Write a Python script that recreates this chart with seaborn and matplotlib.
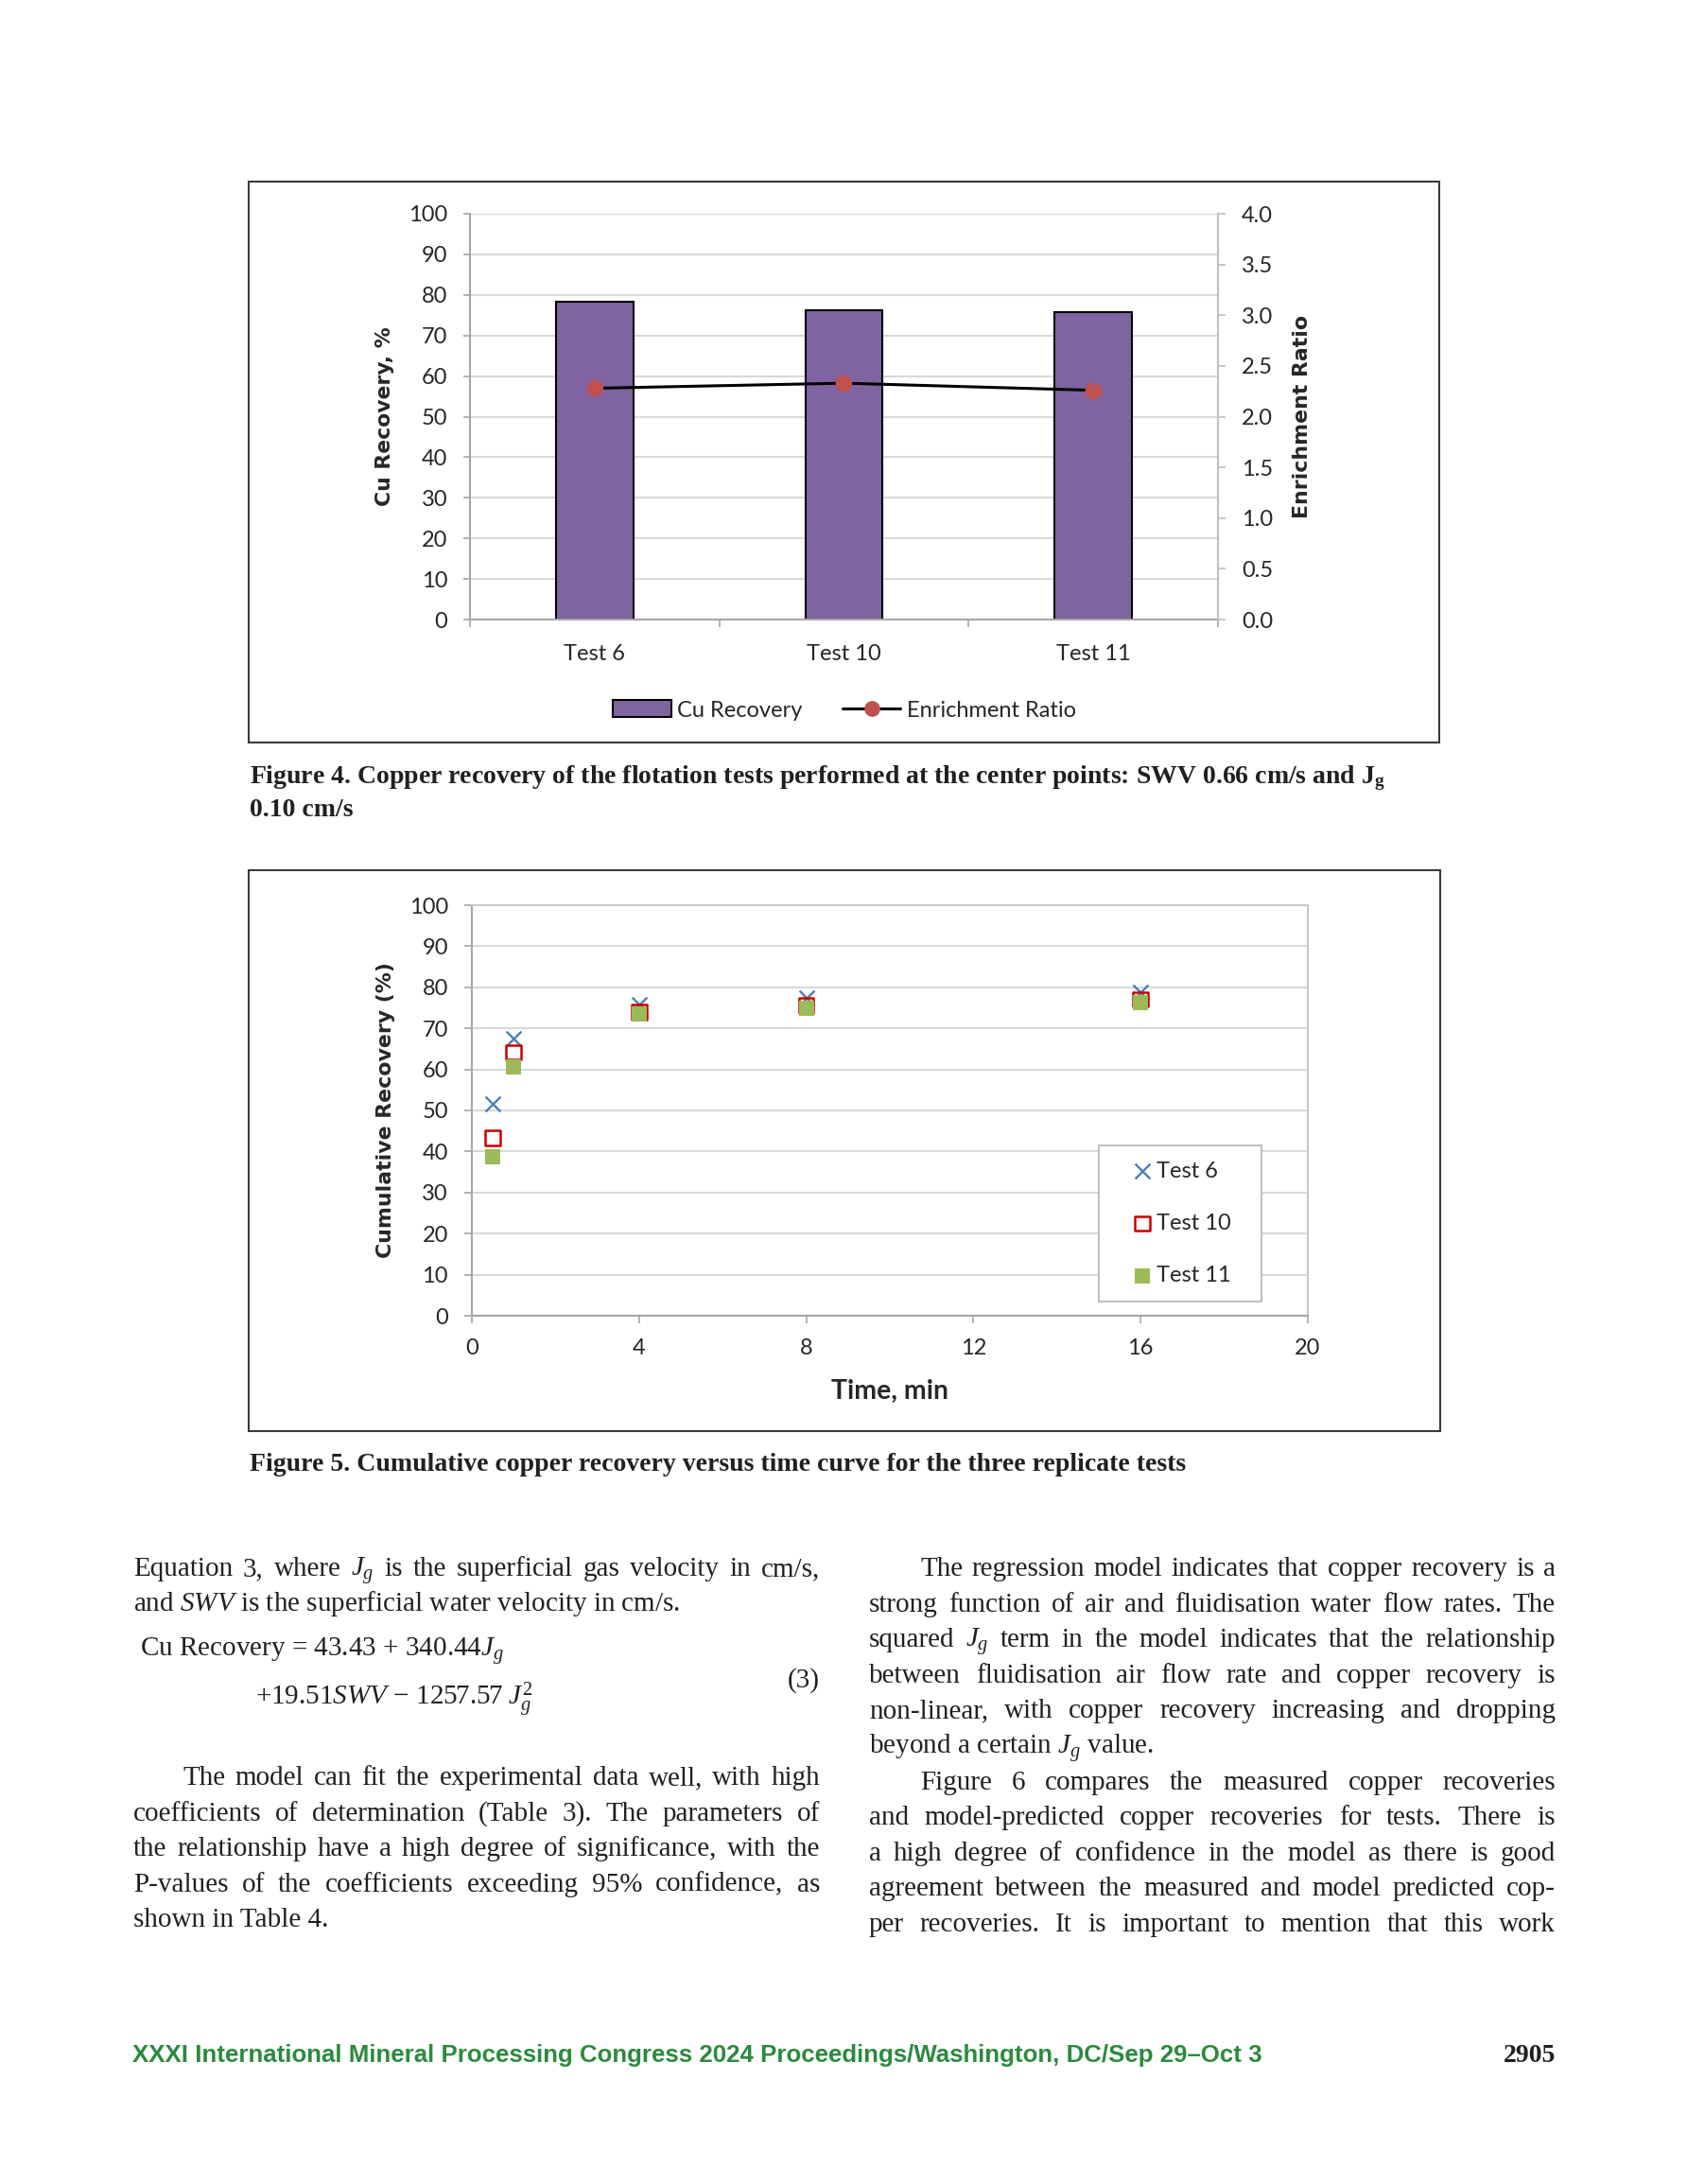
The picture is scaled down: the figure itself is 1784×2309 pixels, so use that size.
import numpy as np
import pandas as pd
import seaborn as sns
import matplotlib
matplotlib.use("Agg")
import matplotlib.pyplot as plt
from matplotlib.patches import Rectangle, Patch
from matplotlib.lines import Line2D
from matplotlib.ticker import FormatStrFormatter

# ---- Figure 4 data
tests = ["Test 6", "Test 10", "Test 11"]
cu_recovery = [78.4, 76.3, 75.8]
enrichment_ratio = [2.28, 2.33, 2.26]

# ---- Figure 5 data
time_min = [0.5, 1, 4, 8, 16]
rec_test6 = [51.6, 67.5, 75.9, 77.4, 78.7]
rec_test10 = [43.3, 64.2, 74.0, 75.6, 77.1]
rec_test11 = [38.8, 60.6, 73.4, 75.0, 76.2]

# ---- page text
cap4 = [r"Figure 4. Copper recovery of the flotation tests performed at the center points: SWV 0.66 cm/s and $\mathbf{J}_\mathbf{g}$",
        "0.10 cm/s"]
cap5 = "Figure 5. Cumulative copper recovery versus time curve for the three replicate tests"
left_col = [("Equation 3, where $J_g$ is the superficial gas velocity in cm/s,", True, 0),
            ("and $SWV$ is the superficial water velocity in cm/s.", False, 0)]
equation = ["Cu Recovery = 43.43 + 340.44$J_g$", "+19.51$SWV$ \u2212 1257.57 $J_g^2$", "(3)"]
left_col2 = [("The model can fit the experimental data well, with high", True, 52),
             ("coefficients of determination (Table 3). The parameters of", True, 0),
             ("the relationship have a high degree of significance, with the", True, 0),
             ("P-values of the coefficients exceeding 95% confidence, as", True, 0),
             ("shown in Table 4.", False, 0)]
right_col = [("The regression model indicates that copper recovery is a", True, 54),
             ("strong function of air and fluidisation water flow rates. The", True, 0),
             ("squared $J_g$ term in the model indicates that the relationship", True, 0),
             ("between fluidisation air flow rate and copper recovery is", True, 0),
             ("non-linear, with copper recovery increasing and dropping", True, 0),
             ("beyond a certain $J_g$ value.", False, 0),
             ("Figure 6 compares the measured copper recoveries", True, 54),
             ("and model-predicted copper recoveries for tests. There is", True, 0),
             ("a high degree of confidence in the model as there is good", True, 0),
             ("agreement between the measured and model predicted cop-", True, 0),
             ("per recoveries. It is important to mention that this work", True, 0)]
footer = "XXXI International Mineral Processing Congress 2024 Proceedings/Washington, DC/Sep 29\u2013Oct 3"
page_no = "2905"

sns.set_style("white")
plt.rcParams['font.family'] = ['Lato', 'DejaVu Sans']
plt.rcParams['mathtext.fontset'] = 'custom'
plt.rcParams['mathtext.rm'] = 'Liberation Serif'
plt.rcParams['mathtext.it'] = 'Liberation Serif:italic'
plt.rcParams['mathtext.bf'] = 'Liberation Serif:bold'

W, H = 1784, 2309
fig = plt.figure(figsize=(W / 100, H / 100), dpi=100)
renderer = fig.canvas.get_renderer()

page = fig.add_axes([0, 0, 1, 1])
page.set_xlim(0, W)
page.set_ylim(H, 0)
page.axis('off')

SERIF = 'Liberation Serif'
INK = '#231f20'


def px_axes(l, t, r, b):
    return fig.add_axes([l / W, 1 - b / H, (r - l) / W, (b - t) / H])


def width_of(s, **kw):
    t = page.text(0, 0, s, **kw)
    w = t.get_window_extent(renderer).width
    t.remove()
    return w


def fit_size(s, target, **kw):
    return 20 * target / width_of(s, fontsize=20, **kw)


def put_line(s, x0, x1, y, justify, size, **kw):
    if not justify:
        page.text(x0, y, s, fontsize=size, va='baseline', color=INK, **kw)
        return
    words = s.split(' ')
    while True:
        ws = [width_of(w, fontsize=size, **kw) for w in words]
        gap = (x1 - x0 - sum(ws)) / (len(words) - 1)
        if gap >= 0.2 * size * 100 / 72:
            break
        size *= 0.98
    x = x0
    for w, wd in zip(words, ws):
        page.text(x, y, w, fontsize=size, va='baseline', color=INK, **kw)
        x += wd + gap


def fit_label(lab, target):
    ext = lab.get_window_extent(renderer)
    lab.set_fontsize(lab.get_fontsize() * target / max(ext.width, ext.height))


# chart frames
page.add_patch(Rectangle((263, 192), 1259, 593, fill=False, ec='#3a3a3a', lw=1.5))
page.add_patch(Rectangle((263, 920), 1260, 593, fill=False, ec='#3a3a3a', lw=1.5))

TS = 17

# ================= Figure 4 =================
ax4 = px_axes(497, 226, 1288, 655)
sns.barplot(x=tests, y=cu_recovery, ax=ax4, color='#8064a2', edgecolor='black',
            linewidth=1.5, width=0.31, saturation=1)
ax2 = ax4.twinx()
sns.pointplot(x=tests, y=enrichment_ratio, ax=ax2, color='black', markers='o',
              markersize=11, linewidth=2.2, errorbar=None)
for ln in ax2.lines:
    ln.set_markerfacecolor('#c0504d')
    ln.set_markeredgecolor('#c0504d')

ax4.set_xlim(-0.5, 2.5)
ax4.set_ylim(0, 100)
ax4.set_yticks(range(0, 101, 10))
ax4.grid(axis='y', color='#d9d9d9', lw=1.5)
ax4.grid(axis='x', visible=False)
ax4.set_axisbelow(True)
for side in ['top', 'right']:
    ax4.spines[side].set_visible(False)
for side in ['left', 'bottom']:
    ax4.spines[side].set_color('#a6a6a6')
    ax4.spines[side].set_linewidth(1.5)
ax4.tick_params(axis='y', direction='out', length=5, width=1.2, color='#a6a6a6',
                labelsize=TS, pad=12, left=True)
ax4.set_xticks([-0.5, 0.5, 1.5, 2.5], minor=True)
ax4.tick_params(axis='x', which='major', length=0, labelsize=TS, pad=19)
ax4.tick_params(axis='x', which='minor', direction='out', length=6, width=1.2,
                color='#a6a6a6', bottom=True)
ax4.set_xlabel('')
ax4.set_ylabel('Cu Recovery, %', fontfamily='DejaVu Sans', fontweight='bold', fontsize=14)
ax4.yaxis.set_label_coords((407 - 497) / 791, 0.5)
ax4.yaxis.label.set_verticalalignment('center')
fit_label(ax4.yaxis.label, 190)

ax2.set_ylim(0, 4)
ax2.set_yticks(np.arange(0, 4.01, 0.5))
ax2.yaxis.set_major_formatter(FormatStrFormatter('%.1f'))
ax2.grid(False)
for side in ['top', 'left', 'bottom']:
    ax2.spines[side].set_visible(False)
ax2.spines['right'].set_color('#bfbfbf')
ax2.spines['right'].set_linewidth(1.5)
ax2.tick_params(axis='y', direction='out', length=6, width=1.2, color='#bfbfbf',
                labelsize=TS, pad=12, right=True)
ax2.set_ylabel('Enrichment Ratio', fontfamily='DejaVu Sans', fontweight='bold', fontsize=14)
ax2.yaxis.set_label_coords((1377 - 497) / 791, 0.5)
ax2.yaxis.label.set_verticalalignment('center')
ax2.yaxis.label.set_rotation(90)
fit_label(ax2.yaxis.label, 215)
ax4.set_xlim(-0.5, 2.5)

h4 = [Patch(facecolor='#8064a2', edgecolor='black', linewidth=1.5),
      Line2D([], [], color='black', lw=2.2, marker='o', ms=11,
             mfc='#c0504d', mec='#c0504d')]
fig.legend(h4, ['Cu Recovery', 'Enrichment Ratio'], loc='center',
           bbox_to_anchor=(893 / W, 1 - 751 / H), ncol=2, frameon=False, fontsize=TS,
           handlelength=2.6, handleheight=0.8, handletextpad=0.27, columnspacing=1.8)

# ================= Figure 5 =================
ax5 = px_axes(499, 957, 1383, 1391)
sns.scatterplot(x=time_min, y=rec_test6, ax=ax5, marker='x', color='#4a7ebb', s=130,
                linewidth=1.7, label='Test 6', zorder=2)
sns.scatterplot(x=time_min, y=rec_test10, ax=ax5, marker='s', color='#cc0000', s=125,
                linewidth=1.8, label='Test 10', zorder=3)
sns.scatterplot(x=time_min, y=rec_test11, ax=ax5, marker='s', color='#9bbb59', s=135,
                linewidth=0, label='Test 11', zorder=4)
ax5.collections[1].set_facecolor('none')
ax5.collections[1].set_edgecolor('#cc0000')

ax5.set_xlim(0, 20)
ax5.set_ylim(0, 100)
ax5.set_xticks(range(0, 21, 4))
ax5.set_yticks(range(0, 101, 10))
ax5.grid(axis='y', color='#d9d9d9', lw=1.5)
ax5.grid(axis='x', visible=False)
ax5.set_axisbelow(True)
for side in ['left', 'bottom']:
    ax5.spines[side].set_color('#a6a6a6')
    ax5.spines[side].set_linewidth(1.5)
for side in ['top', 'right']:
    ax5.spines[side].set_color('#c8c8c8')
    ax5.spines[side].set_linewidth(1.5)
ax5.tick_params(axis='both', direction='out', length=6, width=1.2, color='#a6a6a6',
                labelsize=TS, left=True, bottom=True)
ax5.tick_params(axis='y', pad=12)
ax5.tick_params(axis='x', pad=11)
ax5.set_xlabel('Time, min', fontweight='bold', fontsize=17)
ax5.xaxis.set_label_coords(0.5, (1391 - 1471) / 434)
ax5.xaxis.label.set_verticalalignment('center')
fit_label(ax5.xaxis.label, 124)
ax5.set_ylabel('Cumulative Recovery (%)', fontfamily='DejaVu Sans', fontweight='bold', fontsize=14)
ax5.yaxis.set_label_coords((408 - 499) / 884, 0.5)
ax5.yaxis.label.set_verticalalignment('center')
fit_label(ax5.yaxis.label, 314)

leg = ax5.legend(loc='upper left',
                 bbox_to_anchor=((1162 - 499) / 884, (1391 - 1373) / 434,
                                 (1334 - 1162) / 884, (1373 - 1211) / 434),
                 mode='expand', frameon=True, fancybox=False, edgecolor='#bfbfbf',
                 framealpha=1, fontsize=TS, borderpad=0.7, labelspacing=1.45,
                 handlelength=2.5, handletextpad=-0.6, borderaxespad=0)
leg.get_frame().set_linewidth(1.5)

# ================= captions, body text, footer =================
cs = fit_size(cap4[0], 1200, family=SERIF, fontweight='bold')
page.text(264, 828, cap4[0], fontsize=cs, family=SERIF, fontweight='bold', color=INK, va='baseline')
page.text(264, 863, cap4[1], fontsize=cs, family=SERIF, fontweight='bold', color=INK, va='baseline')
page.text(264, 1555, cap5, fontsize=cs, family=SERIF, fontweight='bold', color=INK, va='baseline')

BS = 21
LX0, LX1, RX0, RX1 = 141, 867, 919, 1645
LS = 37.6
for i, (s, j, ind) in enumerate(left_col):
    put_line(s, LX0 + ind, LX1, 1666 + i * 37, j, BS, family=SERIF)
page.text(148, 1751, equation[0], fontsize=BS, family=SERIF, color=INK, va='baseline')
page.text(270, 1803, equation[1], fontsize=BS, family=SERIF, color=INK, va='baseline')
page.text(LX1, 1784, equation[2], fontsize=BS, family=SERIF, color=INK, va='baseline', ha='right')
for i, (s, j, ind) in enumerate(left_col2):
    put_line(s, LX0 + ind, LX1, 1887 + i * LS, j, BS, family=SERIF)
for i, (s, j, ind) in enumerate(right_col):
    put_line(s, RX0 + ind, RX1, 1666 + i * LS, j, BS, family=SERIF)

fs = fit_size(footer, 1193, family='Liberation Sans', fontweight='bold')
page.text(140, 2180, footer, fontsize=fs, family='Liberation Sans', fontweight='bold',
          color='#2b8a3e', va='baseline')
page.text(1645, 2180, page_no, fontsize=20, family=SERIF, fontweight='bold', color=INK,
          va='baseline', ha='right')

fig.savefig('out.png', dpi=100)
